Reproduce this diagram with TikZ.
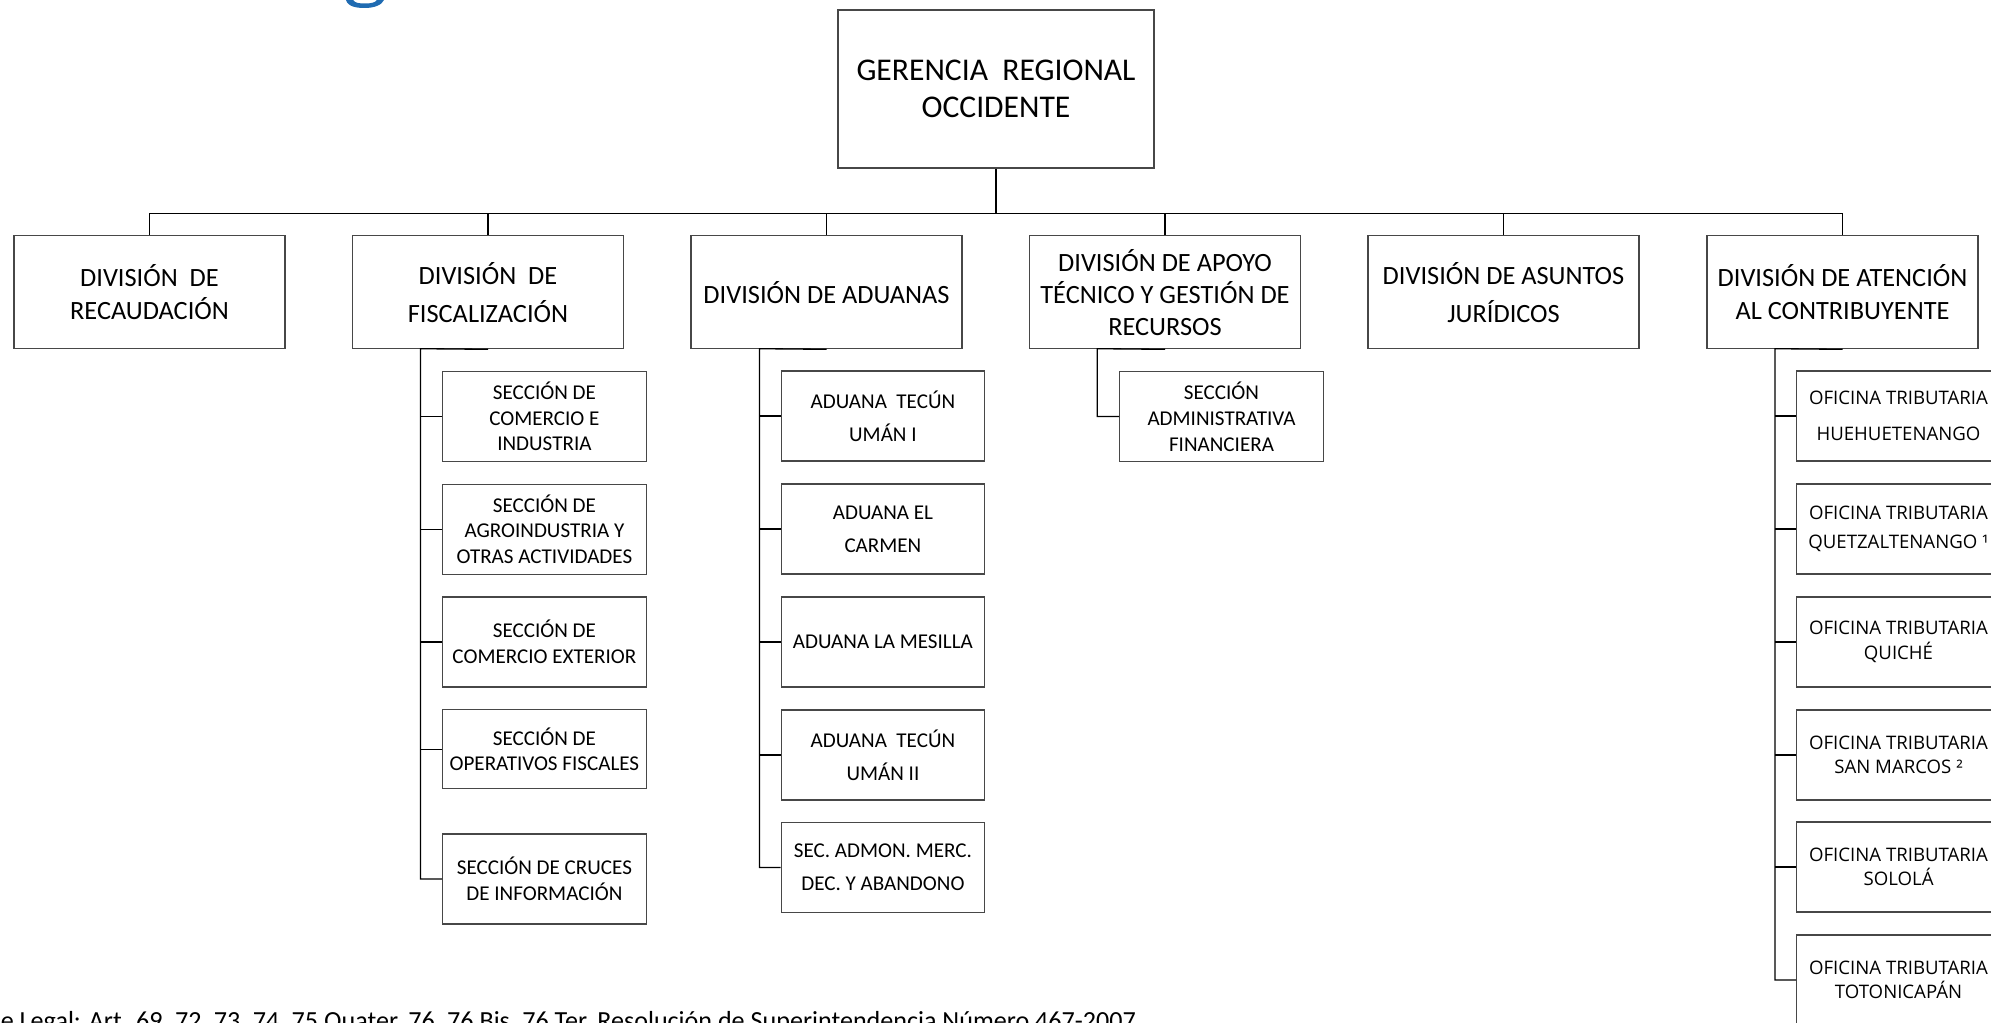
\documentclass[tikz,border=0pt]{standalone}
\usepackage{fontspec}
\setmainfont{Carlito}
\newfontfamily\ofont{Open Sans}
\definecolor{gcol}{RGB}{31,107,178}
\begin{document}
\begin{tikzpicture}[x=0.02cm,y=-0.02cm,
  boxbase/.style={draw=black!72, line width=0.7pt, fill=white, inner sep=0pt, align=center, text=black},
  divbox/.style={boxbase, minimum width=5.42cm, minimum height=2.26cm, font=\fontsize{15}{19}\selectfont},
  secbox/.style={boxbase, minimum width=4.07cm, minimum height=1.8cm, font=\fontsize{12}{14.5}\selectfont},
  adubox/.style={secbox, font=\fontsize{12}{19}\selectfont},
  ofibox/.style={boxbase, minimum width=4.07cm, minimum height=1.8cm, font=\ofont\fontsize{10.6}{14}\selectfont},
  link/.style={draw=black, line width=0.75pt},
]
\clip (0,0) rectangle (1991,1023);
\useasboundingbox (0,0) rectangle (1991,1023);
\fill[white] (0,0) rectangle (1991,1023);

% fragment of cut-off title
\fill[gcol] (346,0) .. controls (348,7) and (357,8) .. (365,8) .. controls (374,8) and (382,5) .. (384,0) -- (377,0) .. controls (375,3) and (370,3.5) .. (365,3.5) .. controls (359,3.5) and (355,3) .. (353,0) -- cycle;

% top
\node[boxbase, minimum width=6.32cm, minimum height=3.16cm, font=\fontsize{18}{21}\selectfont] (ger) at (996,89) {GERENCIA~~REGIONAL\\OCCIDENTE};

% divisions
\node[divbox] (rec) at (149.5,292.2) {DIVISIÓN~~DE\\RECAUDACIÓN};
\node[divbox, font=\fontsize{15}{21.6}\selectfont] (fis) at (488,292.2) {DIVISIÓN~~DE\\FISCALIZACIÓN};
\node[divbox] (adu) at (826.5,292.2) {DIVISIÓN DE ADUANAS};
\node[divbox, font=\fontsize{15}{18.2}\selectfont] (apo) at (1165,292.2) {DIVISIÓN DE APOYO\\TÉCNICO Y GESTIÓN DE\\RECURSOS};
\node[divbox, font=\fontsize{15}{21.6}\selectfont] (jur) at (1503.5,292.2) {DIVISIÓN DE ASUNTOS\\JURÍDICOS};
\node[divbox] (ate) at (1842.5,292.2) {DIVISIÓN DE ATENCIÓN\\AL CONTRIBUYENTE};

% bus
\coordinate (bus) at (996,213.3);
\draw[link] (ger.south) -- (bus);
\draw[link] (rec.north) -- (rec.north |- bus) -- (ate.north |- bus) -- (ate.north);
\foreach \n in {fis,adu,apo,jur} \draw[link] (\n.north) -- (\n.north |- bus);

% fiscalizacion sections
\node[secbox] (f1) at (544.4,416.3) {SECCIÓN DE\\COMERCIO E\\INDUSTRIA};
\node[secbox] (f2) at (544.4,529.2) {SECCIÓN DE\\AGROINDUSTRIA Y\\OTRAS ACTIVIDADES};
\node[secbox] (f3) at (544.4,641.9) {SECCIÓN DE\\COMERCIO EXTERIOR};
\node[secbox, minimum height=1.58cm] (f4) at (544.4,749.2) {SECCIÓN DE\\OPERATIVOS FISCALES};
\node[secbox] (f5) at (544.4,879) {SECCIÓN DE CRUCES\\DE INFORMACIÓN};
\coordinate (fT) at (420.5,348.7);
\draw[link] (fis.south) -- (fT) -- (fT |- f5.west) -- (f5.west);
\foreach \n in {f1,f2,f3,f4} \draw[link] (fT |- \n.west) -- (\n.west);

% aduanas
\node[adubox] (a1) at (882.9,416) {ADUANA~~TECÚN\\UMÁN I};
\node[adubox] (a2) at (882.9,529) {ADUANA EL\\CARMEN};
\node[adubox] (a3) at (882.9,642) {ADUANA LA MESILLA};
\node[adubox] (a4) at (882.9,755) {ADUANA~~TECÚN\\UMÁN II};
\node[adubox] (a5) at (882.9,867.5) {SEC. ADMON. MERC.\\DEC. Y ABANDONO};
\coordinate (aT) at (759.5,348.7);
\draw[link] (adu.south) -- (aT) -- (aT |- a5.west) -- (a5.west);
\foreach \n in {a1,a2,a3,a4} \draw[link] (aT |- \n.west) -- (\n.west);

% apoyo
\node[secbox, font=\fontsize{12}{14.8}\selectfont] (p1) at (1221.5,416.5) {SECCIÓN\\ADMINISTRATIVA\\FINANCIERA};
\coordinate (pT) at (1097.3,348.7);
\draw[link] (apo.south) -- (pT) -- (pT |- p1.west) -- (p1.west);

% atencion
\node[ofibox, font=\ofont\fontsize{10.6}{20.3}\selectfont] (o1) at (1898.5,416) {OFICINA TRIBUTARIA\\HUEHUETENANGO};
\node[ofibox, font=\ofont\fontsize{10.6}{16.5}\selectfont] (o2) at (1898.5,529) {OFICINA TRIBUTARIA\\QUETZALTENANGO ¹};
\node[ofibox] (o3) at (1898.5,642) {OFICINA TRIBUTARIA\\QUICHÉ};
\node[ofibox] (o4) at (1898.5,755) {OFICINA TRIBUTARIA\\SAN MARCOS ²};
\node[ofibox] (o5) at (1898.5,867) {OFICINA TRIBUTARIA\\SOLOLÁ};
\node[ofibox] (o6) at (1898.5,980) {OFICINA TRIBUTARIA\\TOTONICAPÁN};
\coordinate (oT) at (1775,348.7);
\draw[link] (ate.south) -- (oT) -- (oT |- o6.west) -- (o6.west);
\foreach \n in {o1,o2,o3,o4,o5} \draw[link] (oT |- \n.west) -- (\n.west);

% footer
\node[anchor=base east, inner sep=0pt, font=\fontsize{14.85}{17}\selectfont] (foot) at (1136,1029) {Base Legal: Art. 69, 72, 73, 74, 75 Quater, 76, 76 Bis, 76 Ter, Resolución de Superintendencia Número 467-2007};
\end{tikzpicture}
\end{document}
